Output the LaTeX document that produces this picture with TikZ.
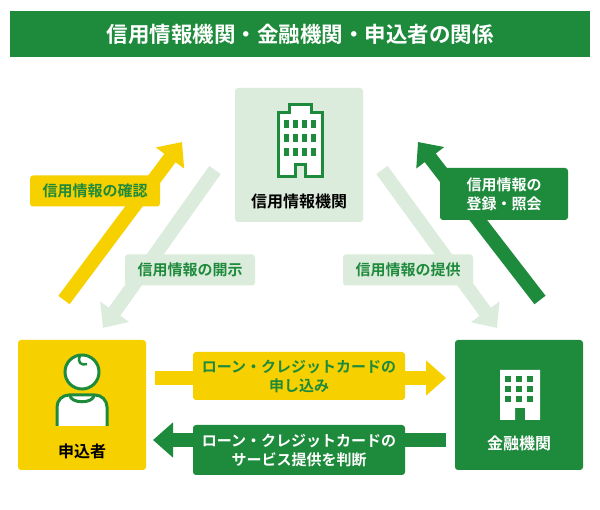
\documentclass[tikz,border=0pt]{standalone}
\usepackage{fontspec}
\setmainfont{Noto Sans CJK JP}[BoldFont={Noto Sans CJK JP Bold}]
\usetikzlibrary{arrows.meta}
\definecolor{gr}{HTML}{1E8A3C}
\definecolor{ye}{HTML}{F7D000}
\definecolor{lg}{HTML}{DCECDC}
\begin{document}
\begin{tikzpicture}[x=1pt,y=-1pt,
  lab/.style={rounded corners=3pt,inner sep=0pt,font=\bfseries\fontsize{15}{19}\selectfont,align=center},
  big/.style={line width=14pt,-{Triangle[length=20pt,width=34pt]}},
  txt/.style={font=\bfseries\fontsize{16}{19}\selectfont}]
\useasboundingbox (0,0) rectangle (600,510);
\fill[white] (0,0) rectangle (600,510);
\node[fill=gr,minimum width=580,minimum height=46,inner sep=0,text=white,font=\bfseries\fontsize{21.5}{24}\selectfont] (title) at (300,34) {信用情報機関・金融機関・申込者の関係};
% boxes
\node[fill=lg,rounded corners=3pt,minimum width=128,minimum height=134] (cb) at (299,155) {};
\node[fill=ye,rounded corners=3pt,minimum width=128,minimum height=130] (lb) at (82,405) {};
\node[fill=gr,rounded corners=3pt,minimum width=128,minimum height=130] (rb) at (519,405) {};
\node[txt] (ct) at (299,201) {信用情報機関};
\node[txt] (lt) at (82,451) {申込者};
\node[txt,text=white] (rt) at (519,443) {金融機関};
% top building
\draw[gr,line width=3pt,fill=white] (278,177)--(278,113)--(289,113)--(289,105)--(311,105)--(311,113)--(322,113)--(322,177)--(305,177)--(305,165)--(295,165)--(295,177)--cycle;
\foreach \i in {0,1,2,3} \foreach \j in {0,1,2}
  \fill[gr] (284+\i*9,120+\j*14) rectangle ++(5,8);
% right building
\fill[white] (500,420)--(500,370)--(540,370)--(540,420)--(525,420)--(525,408)--(515,408)--(515,420)--cycle;
\foreach \i in {0,1,2} \foreach \j in {0,1,2}
  \fill[gr] (505+\i*11,376+\j*10) rectangle ++(6,6);
% person
\draw[gr,line width=3pt,fill=white,rounded corners=12pt] (57,426)--(57,395)--(107,395)--(107,426);
\draw[gr,line width=3pt] (70,395) .. controls (70,404) and (94,404) .. (94,395);
\draw[gr,line width=3pt,fill=white] (82,372) circle[radius=17];
\draw[gr,line width=2.5pt] (80,356) .. controls (77,362) and (81,366) .. (87,364);
% coordinates
\coordinate (a1s) at (64,300); \coordinate (a1e) at (182,142);
\coordinate (a2s) at (215,170); \coordinate (a2e) at (103,328);
\coordinate (a3s) at (382,170); \coordinate (a3e) at (497,328);
\coordinate (a4s) at (540,300); \coordinate (a4e) at (418,142);
\coordinate (h1s) at (155,378); \coordinate (h1e) at (446,378);
\coordinate (h2s) at (446,440); \coordinate (h2e) at (153,440);
\draw[big,lg] (a2s)--(a2e);
\draw[big,lg] (a3s)--(a3e);
\draw[big,ye] (a1s)--(a1e);
\draw[big,gr] (a4s)--(a4e);
\draw[big,ye] (h1s)--(h1e);
\draw[big,gr] (h2s)--(h2e);
% labels
\node[lab,fill=ye,text=gr,minimum width=130,minimum height=31] (l1) at (95,191) {信用情報の確認};
\node[lab,fill=lg,text=gr,minimum width=130,minimum height=31] (l2) at (190,270) {信用情報の開示};
\node[lab,fill=lg,text=gr,minimum width=130,minimum height=31] (l3) at (408,270) {信用情報の提供};
\node[lab,fill=gr,text=white,minimum width=128,minimum height=52] (l4) at (504,194) {信用情報の\\登録・照会};
\node[lab,fill=ye,text=gr,minimum width=212,minimum height=48] (l5) at (299,376) {ローン・クレジットカードの\\申し込み};
\node[lab,fill=gr,text=white,minimum width=212,minimum height=50] (l6) at (299,450) {ローン・クレジットカードの\\サービス提供を判断};
\end{tikzpicture}
\end{document}
